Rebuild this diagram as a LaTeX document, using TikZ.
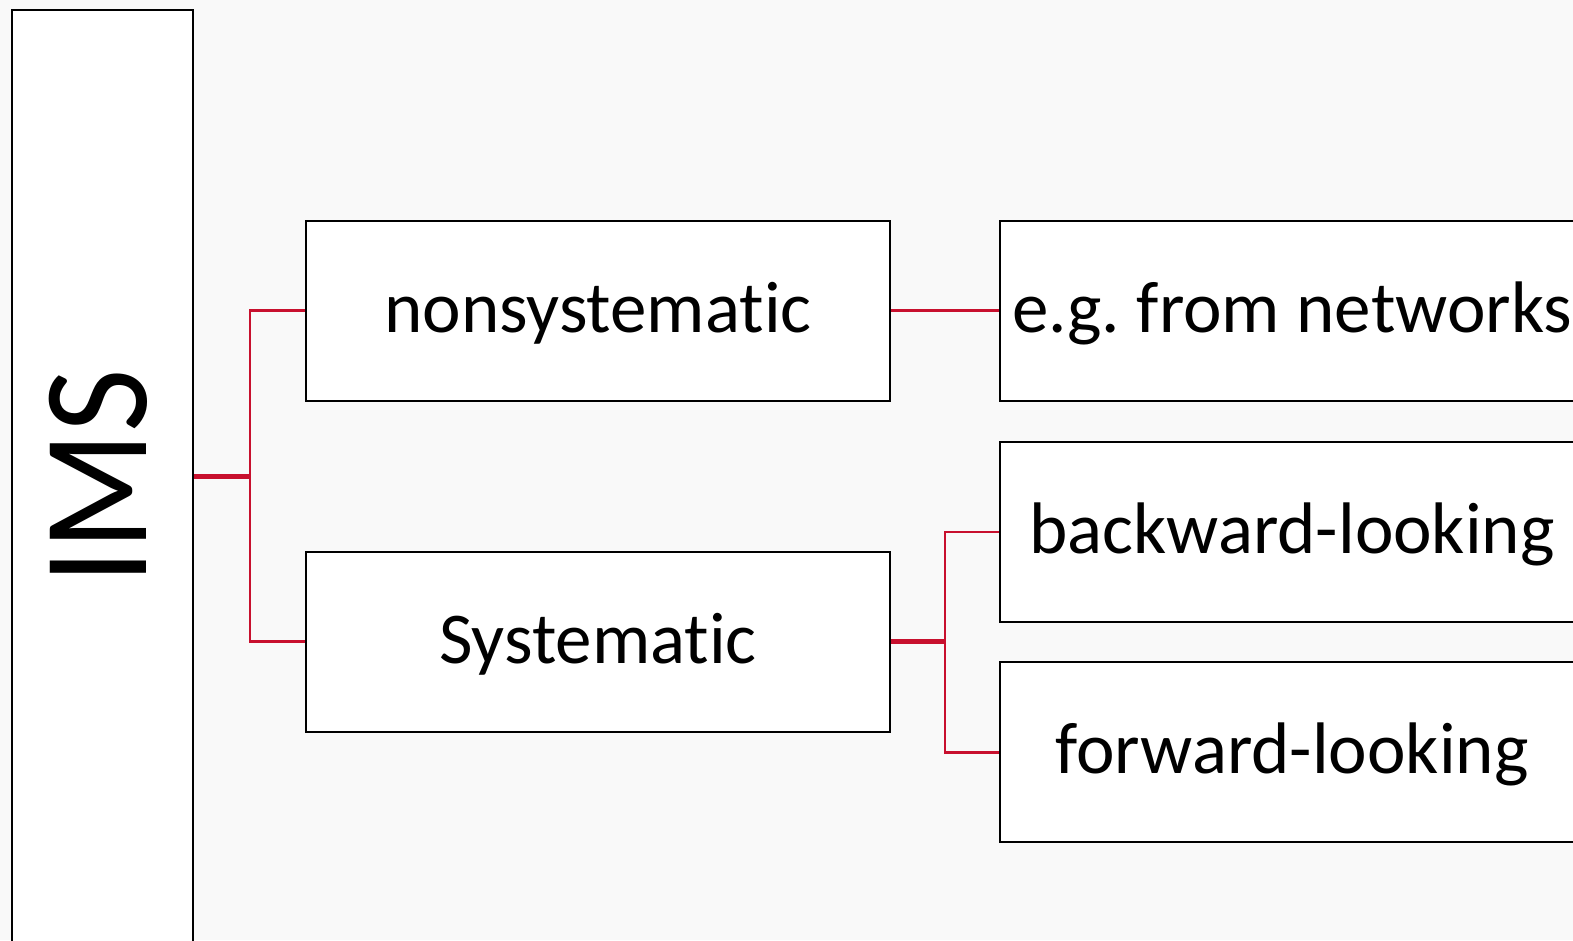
\documentclass[tikz,border=0pt]{standalone}
\usepackage{graphicx}
\usepackage{fontspec}
\setmainfont{Carlito}[Ligatures=NoCommon]
\definecolor{conn}{RGB}{200,16,46}
\definecolor{bgc}{RGB}{249,249,249}
\begin{document}
\frenchspacing
\begin{tikzpicture}[x=1pt,y=-1pt,
  box/.style={draw=black, line width=1.8pt, fill=white, inner sep=0pt,
    minimum width=584pt, minimum height=180pt, text height=43pt, text depth=0pt,
    font=\fontsize{73}{80}\selectfont},
  imsbox/.style={draw=black, line width=1.8pt, fill=white, inner sep=0pt,
    minimum width=181pt, minimum height=934pt},
  thinconn/.style={draw=conn, line width=2.8pt},
  thickconn/.style={draw=conn, line width=4.5pt}]
\useasboundingbox (0,0) rectangle (1573,940);
\clip (0,0) rectangle (1573,940);
\fill[bgc] (0,0) rectangle (1573,940);

\node[imsbox] (ims) at (102.8,476.7) {\fontsize{150}{150}\selectfont\rotatebox{90}{\scalebox{0.92}[1]{IMS}}\hspace*{8pt}};
\node[box] (ns) at (598,310.8) {nonsystematic};
\node[box] (sy) at (598,641.6) {Systematic};
\node[box] (eg) at (1292,310.8) {e.g. from networks};
\node[box] (bw) at (1292,531.9) {backward-looking};
\node[box] (fw) at (1292,752.2) {forward-looking};

\coordinate (j1) at (250,0);
\coordinate (j2) at (945,0);
\draw[thickconn] (ims.east) -- (ims.east -| j1);
\draw[thinconn] (ns.west) -- (ns.west -| j1) -- (sy.west -| j1) -- (sy.west);
\draw[thinconn] (ns.east) -- (eg.west);
\draw[thickconn] (sy.east) -- (sy.east -| j2);
\draw[thinconn] (bw.west) -- (bw.west -| j2) -- (fw.west -| j2) -- (fw.west);
\end{tikzpicture}
\end{document}
